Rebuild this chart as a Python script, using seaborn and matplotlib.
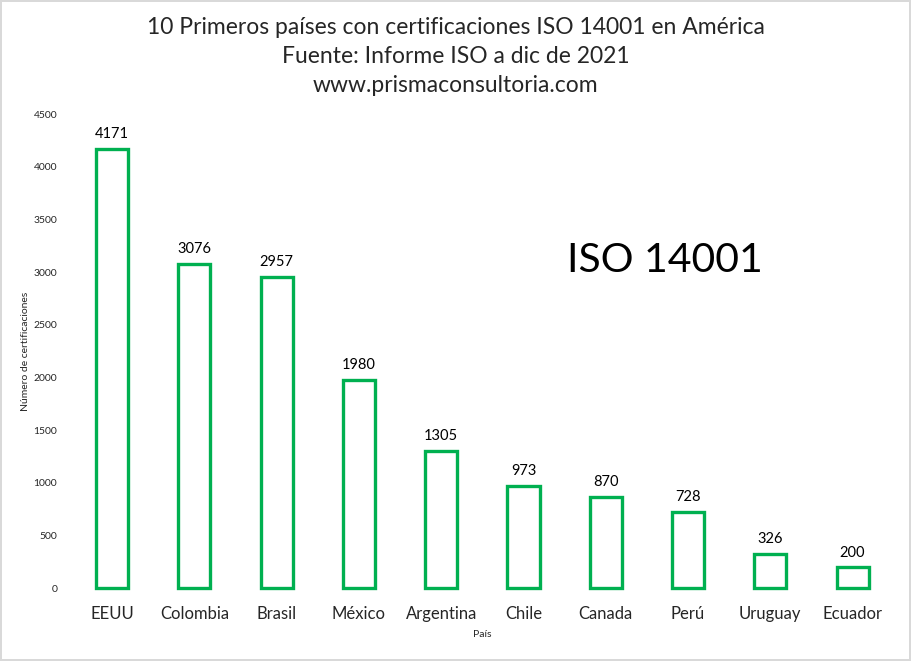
import matplotlib
matplotlib.use("Agg")
import matplotlib.pyplot as plt
import seaborn as sns
import pandas as pd

paises = ["EEUU", "Colombia", "Brasil", "México", "Argentina",
          "Chile", "Canada", "Perú", "Uruguay", "Ecuador"]
certificaciones = [4171, 3076, 2957, 1980, 1305, 973, 870, 728, 326, 200]
yticks = [0, 500, 1000, 1500, 2000, 2500, 3000, 3500, 4000, 4500]

sns.set_theme(style="white")
plt.rcParams["font.family"] = ["Lato", "DejaVu Sans"]

df = pd.DataFrame({"País": paises, "Número de certificaciones": certificaciones})

fig = plt.figure(figsize=(9.11, 6.61), dpi=100, edgecolor="#d9d9d9", linewidth=1.5)
ax = fig.add_axes([0.078, 0.110, 0.903, 0.7175])

verde = "#00b050"
sns.barplot(data=df, x="País", y="Número de certificaciones", ax=ax,
            width=0.39, fill=False, color=verde, linewidth=2.4)
for p in ax.patches:
    p.set_edgecolor(verde)
    p.set_facecolor("none")
    p.set_clip_on(False)

# etiquetas de valor encima de cada barra
for i, v in enumerate(certificaciones):
    ax.annotate(str(v), (i, v), xytext=(0, 5.5), textcoords="offset points",
                ha="center", va="bottom", fontsize=10.5, color="#000000")

ax.set_ylim(0, 4500)
ax.set_yticks(yticks)
ax.set_yticklabels([str(t) for t in yticks], fontsize=7.5)
ax.tick_params(axis="x", labelsize=12, pad=13, length=0)
ax.tick_params(axis="y", length=0, pad=10)
ax.set_xlim(-0.5, len(paises) - 0.5)
for s in ax.spines.values():
    s.set_visible(False)

ax.set_ylabel("Número de certificaciones", fontsize=7.5)
ax.yaxis.set_label_coords(-0.05, 0.5)
ax.set_xlabel("País", fontsize=7.5)
ax.xaxis.set_label_coords(0.5, -0.088)

ax.text(0.603, 0.692, "ISO 14001", transform=ax.transAxes, fontsize=29.5,
        ha="left", va="center", color="#000000")

fig.text(0.5, 0.958, "10 Primeros países con certificaciones ISO 14001 en América",
         ha="center", va="center", fontsize=16.5)
fig.text(0.5, 0.915, "Fuente: Informe ISO a dic de 2021",
         ha="center", va="center", fontsize=16.5)
fig.text(0.5, 0.871, "www.prismaconsultoria.com",
         ha="center", va="center", fontsize=16.5)

fig.savefig("out.png", dpi=100, edgecolor=fig.get_edgecolor())
